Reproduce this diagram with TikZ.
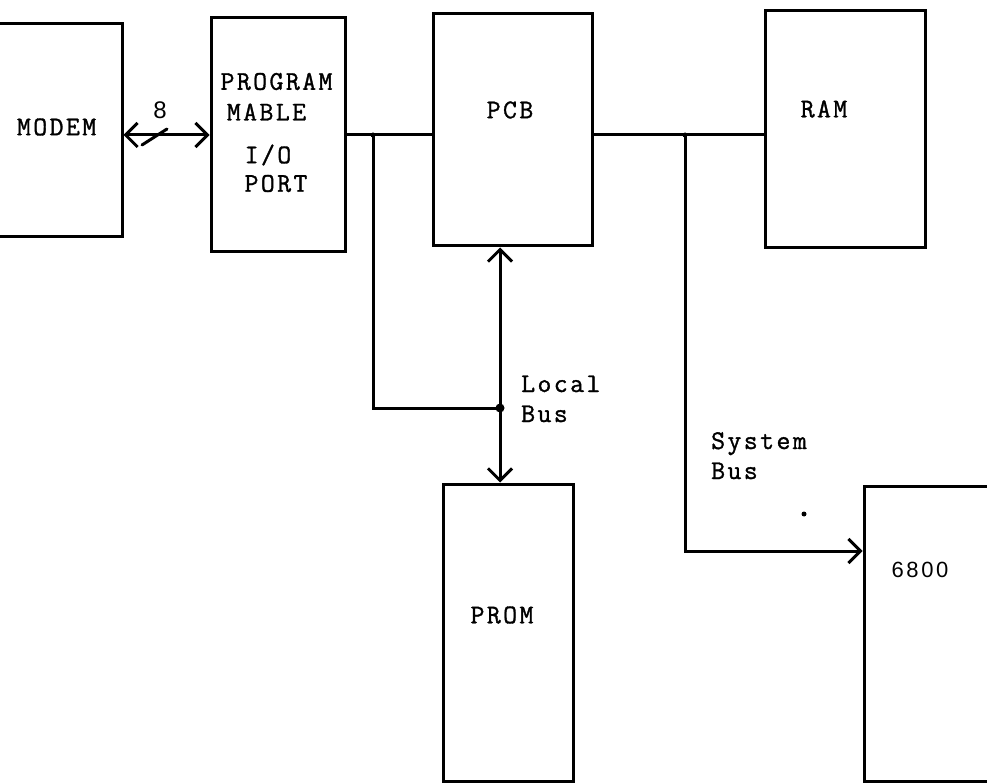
\documentclass[tikz,border=0pt]{standalone}
\usepackage{fontspec}
\newfontfamily\tw[LetterSpace=9,FakeBold=1.2]{Latin Modern Mono}
\newfontfamily\digitfont[LetterSpace=12]{Liberation Sans}
\usetikzlibrary{arrows.meta}
\tikzset{
  blk/.style={draw=black, line width=3pt, fill=none, inner sep=0pt},
  lbl/.style={inner sep=0pt, font=\tw\fontsize{27}{30}\selectfont},
  conn/.style={line width=3pt, black},
  barb/.tip={Straight Barb[length=12pt,width=24pt]},
}
\begin{document}
\begin{tikzpicture}[x=1pt,y=-1pt]
\useasboundingbox (0,0) rectangle (987,783);
\clip (0,0) rectangle (987,783);
\fill[white] (0,0) rectangle (987,783);
% boxes
\node[blk, minimum width=132pt, minimum height=213pt] (modem) at (56,130.5) {};
\node[blk, minimum width=134pt, minimum height=234pt] (prog) at (278,135) {};
\node[blk, minimum width=159pt, minimum height=232pt] (pcb) at (512.5,130) {};
\node[blk, minimum width=160pt, minimum height=237pt] (ram) at (845,129.5) {};
\node[blk, minimum width=130pt, minimum height=297pt] (prom) at (508,632.5) {};
\node[blk, minimum width=140pt, minimum height=295pt] (cpu) at (934,633.5) {};
% texts
\node[lbl] (modemt) at (56.6,127) {MODEM};
\node[lbl] (progt1) at (276.5,81.5) {PROGRAM};
\node[lbl] (progt2) at (266.5,112) {MABLE};
\node[lbl] (progt3) at (268,155) {I/O};
\node[lbl] (progt4) at (276,183.5) {PORT};
\node[lbl] (pcbt) at (510,110) {PCB};
\node[lbl] (ramt) at (824,109) {RAM};
\node[lbl] (promt) at (502,615) {PROM};
\node[lbl, anchor=base west] (localt) at (521,392) {Local};
\node[lbl, anchor=base west] (localb) at (521,422) {Bus};
\node[lbl, anchor=base west] (syst) at (711,449) {System};
\node[lbl, anchor=base west] (sysb) at (711,479) {Bus};
\node[inner sep=0pt, font=\digitfont\fontsize{22}{26}\selectfont] (cput) at (920,570) {6800};
\node[inner sep=0pt, font=\digitfont\fontsize{24}{26}\selectfont] (eight) at (160,110) {8};
% bus coordinates
\coordinate (busy) at (0,135);
\coordinate (j1) at (373,135);
\coordinate (lb) at (500,408);
\coordinate (j2) at (685,135);
\coordinate (sb) at (685,551);
% connectors
\draw[conn, barb-barb] (modem.east |- busy) -- (prog.west |- busy);
\draw[conn, line cap=round] (142,145) -- (167,129);
\draw[conn] (prog.east |- busy) -- (pcb.west |- busy);
\draw[conn] (j1) -- (j1 |- lb) -- (lb);
\draw[conn, barb-barb] (pcb.south -| lb) -- (prom.north -| lb);
\fill (lb) circle (4.5pt);
\fill (j1) circle (2.5pt);
\draw[conn] (pcb.east |- busy) -- (ram.west |- busy);
\draw[conn, -barb] (j2) -- (sb) -- (cpu.west |- sb);
\fill (j2) circle (2.5pt);
\fill (804,514) circle (2.5pt);
\end{tikzpicture}
\end{document}
